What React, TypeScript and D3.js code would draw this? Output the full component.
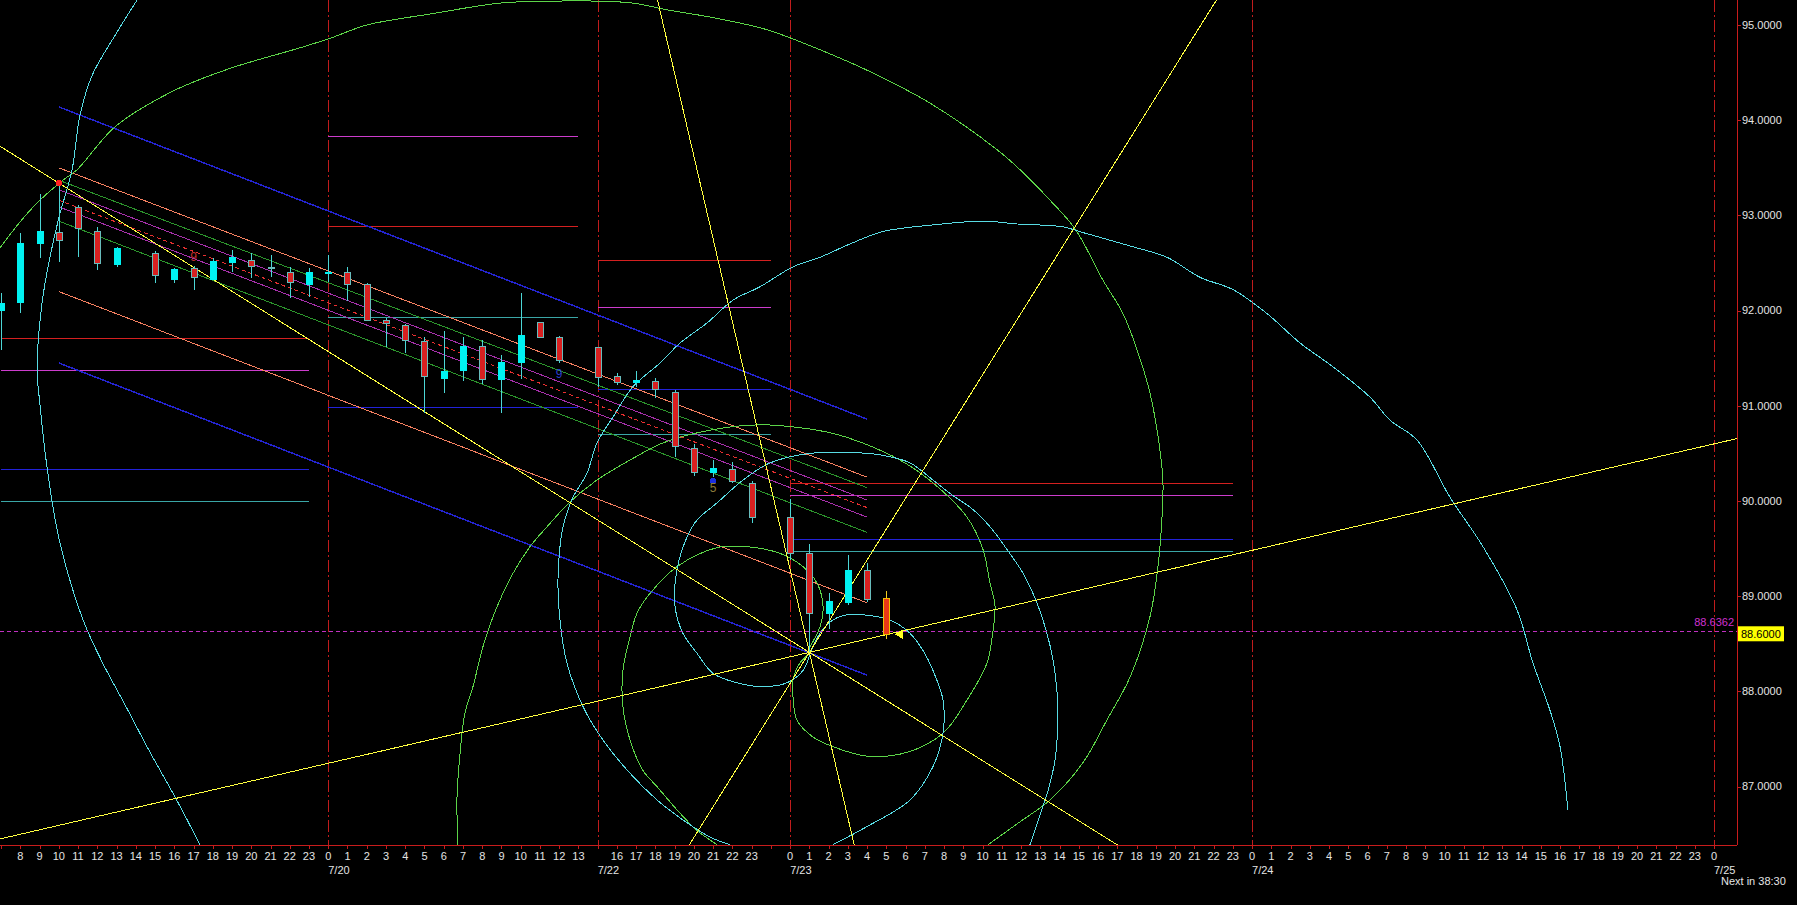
import React, { useEffect } from 'react';
import * as d3 from 'd3';

const W = 1797;
const H = 905;
const plotRight = 1737;
const plotBottom = 845;

// x axis: one slot per hour bar
const hourLabels = [
  '8', '9', '10', '11', '12', '13', '14', '15', '16', '17', '18', '19', '20', '21', '22', '23',
  '0', '1', '2', '3', '4', '5', '6', '7', '8', '9', '10', '11', '12', '13',
  '', '16', '17', '18', '19', '20', '21', '22', '23', '',
  '0', '1', '2', '3', '4', '5', '6', '7', '8', '9', '10', '11', '12', '13', '14', '15', '16', '17', '18', '19', '20', '21', '22', '23',
  '0', '1', '2', '3', '4', '5', '6', '7', '8', '9', '10', '11', '12', '13', '14', '15', '16', '17', '18', '19', '20', '21', '22', '23',
  '0',
];
const dateSlots = [16, 30, 40, 64, 88];
const dateLabels = ['7/20', '7/22', '7/23', '7/24', '7/25'];
const priceTicks = [87, 88, 89, 90, 91, 92, 93, 94, 95];

// candles
const candleSlot = [-1, 0, 1, 2, 3, 4, 5, 7, 8, 9, 10, 11, 12, 13, 14, 15, 16, 17, 18, 19, 20, 21, 22, 23, 24, 25, 26, 27, 28, 30, 31, 32, 33, 34, 35, 36, 37, 38, 40, 41, 42, 43, 44, 45];
const candleOpen = [92.00, 92.08, 92.70, 92.83, 93.09, 92.84, 92.48, 92.61, 92.33, 92.45, 92.33, 92.51, 92.53, 92.46, 92.41, 92.27, 92.40, 92.41, 92.28, 91.90, 91.85, 91.68, 91.29, 91.37, 91.63, 91.28, 91.45, 91.88, 91.72, 91.62, 91.31, 91.24, 91.26, 91.14, 90.56, 90.30, 90.34, 90.19, 89.83, 89.45, 88.82, 88.93, 89.27, 88.98];
const candleHigh = [92.19, 92.82, 93.22, 93.34, 93.11, 92.88, 92.67, 92.63, 92.45, 92.47, 92.55, 92.64, 92.60, 92.58, 92.46, 92.45, 92.58, 92.46, 92.29, 91.92, 91.86, 91.72, 91.79, 91.72, 91.69, 91.53, 92.18, 91.88, 91.73, 91.62, 91.34, 91.37, 91.29, 91.17, 90.60, 90.43, 90.41, 90.21, 90.02, 89.55, 89.03, 89.43, 89.35, 89.05];
const candleLow = [91.59, 91.97, 92.55, 92.51, 92.56, 92.43, 92.46, 92.29, 92.29, 92.22, 92.32, 92.41, 92.34, 92.35, 92.13, 92.14, 92.30, 92.10, 91.89, 91.62, 91.55, 90.92, 91.13, 91.26, 91.23, 90.92, 91.28, 91.72, 91.45, 91.20, 91.22, 91.20, 91.08, 90.46, 90.26, 90.25, 90.19, 89.77, 89.38, 88.41, 88.66, 88.91, 88.94, 88.55];
const candleClose = [92.08, 92.71, 92.84, 92.74, 92.86, 92.49, 92.66, 92.37, 92.44, 92.35, 92.52, 92.56, 92.46, 92.44, 92.29, 92.41, 92.41, 92.27, 91.90, 91.86, 91.69, 91.31, 91.37, 91.63, 91.28, 91.46, 91.74, 91.72, 91.48, 91.30, 91.25, 91.27, 91.17, 90.57, 90.30, 90.35, 90.20, 89.83, 89.45, 88.82, 88.95, 89.28, 88.97, 88.60];

// daily pivot-like level lines
const levelStart = [-1, 16, 30, 40];
const levelEnd = [15, 29, 39, 63];
const levelRed = [91.71, 92.89, 92.53, 90.19];
const levelMagenta = [91.38, 93.83, 92.04, 90.06];
const levelBlue = [90.34, 90.99, 91.18, 89.60];
const levelTeal = [90.00, 91.93, 90.70, 89.48];

// regression channel
const channelStart = 2;
const channelEnd = 44;
const channelFrom = [94.14, 93.50, 93.37, 93.27, 93.16, 93.09, 92.94, 92.20, 91.45];
const channelTo = [90.86, 90.25, 90.14, 90.01, 89.93, 89.83, 89.67, 88.93, 88.17];
const channelColor = ['#2424d0', '#f58060', '#2c962c', '#a830ac', '#e83030', '#a830ac', '#2c962c', '#f58060', '#2424d0'];

// fan lines through the low
const fanAnchor: [number, number] = [41, 88.41];
const fanPoints: [number, number][] = [[2, 93.34], [88, 90.60], [35, 93.62], [51, 91.65]];

// arcs, [slot, price]
const greenArcBig: [number, number][] = [
  [-1.05, 92.66], [-0.02, 92.93], [0.87, 93.13], [2.22, 93.37], [2.95, 93.48], [4.92, 93.93], [7.88, 94.30], [10.84, 94.54],
  [14.53, 94.76], [16.09, 94.86], [18.01, 95.00], [21.44, 95.12], [24.92, 95.23], [27.52, 95.25], [30.12, 95.25], [31.83, 95.23],
  [33.60, 95.16], [36.20, 95.07], [38.80, 94.95], [41.55, 94.74], [44.15, 94.51], [47.26, 94.18], [50.75, 93.69], [52.10, 93.45],
  [53.50, 93.16], [54.80, 92.86], [56.25, 92.32], [57.29, 91.97], [58.02, 91.59], [58.70, 91.13], [59.21, 90.54], [59.37, 90.19],
  [59.32, 89.83], [59.11, 89.31], [58.69, 88.78], [57.66, 88.15], [56.46, 87.70], [55.21, 87.25], [53.50, 86.86], [51.94, 86.63],
  [50.28, 86.39],
];
const greenArcMid: [number, number][] = [
  [41.03, 88.40], [40.51, 88.30], [40.15, 88.12], [40.15, 87.94], [40.35, 87.70], [41.19, 87.52], [42.22, 87.42], [43.99, 87.32],
  [46.07, 87.36], [47.94, 87.56], [49.19, 87.91], [50.23, 88.30], [50.54, 88.64], [50.64, 88.91], [50.38, 89.14], [50.02, 89.49],
  [49.19, 89.83], [47.42, 90.19], [45.71, 90.43], [43.63, 90.62], [42.22, 90.71], [40.51, 90.77], [38.43, 90.80], [35.99, 90.75],
  [33.39, 90.61], [31.68, 90.43], [29.96, 90.22], [28.56, 89.99], [27.37, 89.73], [26.48, 89.52], [25.60, 89.24], [24.77, 88.89],
  [24.04, 88.47], [23.52, 88.05], [23.10, 87.77], [22.85, 87.35], [22.69, 86.89], [22.74, 86.39],
];
const greenArcSmall: [number, number][] = [
  [41.03, 88.47], [41.55, 88.68], [41.71, 88.89], [41.39, 89.14], [40.67, 89.31], [39.47, 89.45], [37.76, 89.52], [36.20, 89.51],
  [34.12, 89.31], [32.72, 89.03], [32.04, 88.82], [31.68, 88.57], [31.31, 88.22], [31.31, 87.84], [31.68, 87.49], [32.35, 87.17],
  [33.08, 87.00], [34.28, 86.72], [35.16, 86.54], [36.20, 86.39],
];
const cyanArcLeft: [number, number][] = [
  [6.06, 95.26], [4.92, 94.89], [3.73, 94.47], [3.10, 94.05], [2.69, 93.48], [2.01, 92.98], [1.54, 92.56], [1.13, 92.08],
  [0.87, 91.38], [1.02, 91.02], [1.34, 90.43], [1.91, 89.70], [2.53, 89.20], [3.36, 88.70], [4.30, 88.29], [5.44, 87.86],
  [6.69, 87.38], [8.04, 86.89], [9.34, 86.39],
];
const cyanArcBig: [number, number][] = [
  [36.87, 86.39], [35.83, 86.47], [34.43, 86.65], [33.08, 86.86], [31.68, 87.14], [30.27, 87.49], [29.24, 87.84], [28.40, 88.30],
  [28.04, 88.75], [27.94, 89.20], [28.20, 89.73], [28.72, 90.04], [29.44, 90.29], [29.96, 90.61], [30.79, 90.88], [31.83, 91.20],
  [33.24, 91.45], [34.28, 91.66], [35.68, 91.87], [37.03, 92.11], [38.43, 92.25], [40.15, 92.46], [41.55, 92.56], [43.11, 92.70],
  [44.82, 92.83], [47.42, 92.90], [50.02, 92.94], [51.78, 92.91], [54.17, 92.88], [55.21, 92.82], [57.81, 92.67], [59.58, 92.56],
  [61.29, 92.35], [63.01, 92.22], [64.77, 91.97], [66.49, 91.66], [68.20, 91.41], [70.13, 91.09], [71.16, 90.85], [72.57, 90.64],
  [74.28, 90.04], [76.00, 89.52], [77.76, 88.86], [78.59, 88.30], [79.48, 87.80], [80.00, 87.42], [80.41, 86.75],
];
const cyanArcMid: [number, number][] = [
  [41.03, 88.40], [40.67, 88.22], [39.83, 88.09], [38.59, 88.05], [37.24, 88.09], [35.99, 88.19], [35.16, 88.40], [34.43, 88.61],
  [34.02, 88.89], [34.12, 89.28], [34.64, 89.62], [35.16, 89.80], [36.20, 89.98], [37.55, 90.22], [38.95, 90.40], [41.03, 90.50],
  [43.11, 90.51], [44.82, 90.48], [46.23, 90.40], [47.42, 90.22], [48.30, 90.08], [49.50, 89.91], [50.38, 89.73], [51.27, 89.49],
  [52.10, 89.24], [52.82, 88.93], [53.34, 88.61], [53.66, 88.33], [53.86, 88.01], [53.91, 87.70], [53.76, 87.28], [53.40, 86.96],
  [52.98, 86.70], [52.46, 86.39],
];
const cyanArcSmall: [number, number][] = [
  [41.03, 88.40], [41.55, 88.61], [42.22, 88.75], [43.11, 88.81], [43.99, 88.80], [45.19, 88.75], [46.23, 88.61], [46.90, 88.43],
  [47.42, 88.22], [47.94, 87.91], [47.94, 87.56], [47.42, 87.21], [46.23, 86.86], [43.99, 86.58], [42.22, 86.39],
];

// markers
const swingHigh: [number, number] = [2, 93.34];
const countSlots = [9, 28, 36];
const countPrices = [92.57, 91.34, 90.14];
const countTexts = ['9', '9', '5'];
const countColors = ['#c02c2c', '#2a3ed0', '#8c7c3c'];
const dotSlot = 36;
const dotPrice = 90.21;
const bidPrice = 88.6;
const markPrice = 88.6362;

const font = 'Liberation Sans, Arial, sans-serif';

export default function App() {
  useEffect(() => {
    document.body.style.margin = '0';
    document.body.style.background = '#000';
  }, []);

  const x = d3.scaleLinear().domain([-1, 88]).range([1.05, 1714]);
  const y = d3.scaleLinear().domain([86.3866, 95.2626]).range([plotBottom, 0]);

  const curve = d3
    .line<[number, number]>()
    .x((d) => x(d[0]))
    .y((d) => y(d[1]))
    .curve(d3.curveCatmullRom.alpha(0.5));

  const extend = (p: [number, number]) => {
    const m = (p[1] - fanAnchor[1]) / (p[0] - fanAnchor[0]);
    const s0 = -3;
    const s1 = 92;
    return {
      x1: x(s0),
      y1: y(fanAnchor[1] + m * (s0 - fanAnchor[0])),
      x2: x(s1),
      y2: y(fanAnchor[1] + m * (s1 - fanAnchor[0])),
    };
  };

  const px = (v: number) => Math.round(v) + 0.5;

  const levelSets = [
    { vals: levelRed, color: '#d42020' },
    { vals: levelMagenta, color: '#cc3ccc' },
    { vals: levelBlue, color: '#2222d8' },
    { vals: levelTeal, color: '#3aa6a6' },
  ];

  const slotsAll = d3.range(-1, 89);

  return (
    <svg width={W} height={H} style={{ position: 'absolute', left: 0, top: 0, background: '#000', display: 'block' }}>
      <defs>
        <clipPath id="plot">
          <rect x={0} y={0} width={plotRight} height={plotBottom} />
        </clipPath>
      </defs>
      <rect x={0} y={0} width={W} height={H} fill="#000" />

      <g clipPath="url(#plot)" shapeRendering="optimizeSpeed">
        {/* day separators */}
        {dateSlots.map((s) => (
          <line key={'d' + s} x1={px(x(s))} x2={px(x(s))} y1={0} y2={plotBottom} stroke="#c01c1c" strokeDasharray="12,3,2,3" />
        ))}

        {/* level lines */}
        {levelSets.map((set, k) =>
          set.vals.map((v, i) => (
            <line key={'l' + k + '-' + i} x1={x(levelStart[i])} x2={x(levelEnd[i])} y1={px(y(v))} y2={px(y(v))} stroke={set.color} />
          )),
        )}

        {/* channel */}
        {channelFrom.map((v, i) => (
          <line
            key={'c' + i}
            x1={x(channelStart)}
            y1={y(v)}
            x2={x(channelEnd)}
            y2={y(channelTo[i])}
            stroke={channelColor[i]}
            strokeWidth={i === 0 || i === 8 ? 1.5 : 1}
            strokeDasharray={i === 4 ? '4,3' : undefined}
          />
        ))}

        {/* arcs */}
        {[greenArcBig, greenArcMid, greenArcSmall].map((pts, i) => (
          <path key={'g' + i} d={curve(pts) ?? ''} fill="none" stroke="#5cd448" strokeWidth={1} />
        ))}
        {[cyanArcLeft, cyanArcBig, cyanArcMid, cyanArcSmall].map((pts, i) => (
          <path key={'cy' + i} d={curve(pts) ?? ''} fill="none" stroke="#58dce4" strokeWidth={1} />
        ))}

        {/* fan lines */}
        {fanPoints.map((p, i) => {
          const e = extend(p);
          return <line key={'f' + i} {...e} stroke="#ffff40" strokeWidth={1} />;
        })}

        {/* price line */}
        <line x1={0} x2={plotRight} y1={px(y(markPrice))} y2={px(y(markPrice))} stroke="#c030c0" strokeDasharray="4,3" />

        {/* candles */}
        {candleSlot.map((s, i) => {
          const o = candleOpen[i];
          const c = candleClose[i];
          const up = c >= o;
          const last = i === candleSlot.length - 1;
          const cx = px(x(s));
          const top = Math.round(y(Math.max(o, c))) + 0.5;
          const h = Math.max(1, Math.round(y(Math.min(o, c)) - top));
          const wick = last ? '#f0d020' : '#4cd6d6';
          return (
            <g key={'k' + i}>
              <line x1={cx} x2={cx} y1={y(candleHigh[i])} y2={y(candleLow[i])} stroke={wick} />
              <rect
                x={cx - 3}
                y={top}
                width={6}
                height={h}
                fill={up ? '#00f2f2' : last ? '#e83818' : '#d82020'}
                stroke={up ? '#00f2f2' : last ? '#f0c000' : '#68bcbc'}
                strokeWidth={1}
              />
            </g>
          );
        })}

        {/* markers */}
        <circle cx={x(swingHigh[0])} cy={y(swingHigh[1])} r={3.2} fill="#ff2020" />
        <circle cx={x(dotSlot)} cy={y(dotPrice)} r={3} fill="#1a2ee0" />
        <path d={`M${x(45.45)},${y(bidPrice)} l8,-5 l0,10 z`} fill="#ffff20" />
      </g>

      {countSlots.map((s, i) => (
        <text key={'t' + i} x={x(s)} y={y(countPrices[i])} dy="0.35em" textAnchor="middle" fontFamily={font} fontSize={12} fill={countColors[i]}>
          {countTexts[i]}
        </text>
      ))}

      {/* axes */}
      <g shapeRendering="crispEdges">
        <line x1={plotRight + 0.5} x2={plotRight + 0.5} y1={0} y2={plotBottom} stroke="#c81c1c" />
        <line x1={0} x2={plotRight} y1={plotBottom + 0.5} y2={plotBottom + 0.5} stroke="#c81c1c" />
        {slotsAll.map((s) => (
          <line key={'tk' + s} x1={px(x(s))} x2={px(x(s))} y1={plotBottom} y2={plotBottom + 4} stroke="#c81c1c" />
        ))}
        {priceTicks.map((p) => (
          <line key={'pt' + p} x1={plotRight} x2={plotRight + 4} y1={px(y(p))} y2={px(y(p))} stroke="#c81c1c" />
        ))}
      </g>
      {hourLabels.map((lab, i) =>
        lab ? (
          <text key={'h' + i} x={x(i)} y={860} textAnchor="middle" fontFamily={font} fontSize={11} fill="#e4e4e4">
            {lab}
          </text>
        ) : null,
      )}
      {dateSlots.map((s, i) => (
        <text key={'dl' + i} x={x(s)} y={874} fontFamily={font} fontSize={11} fill="#e4e4e4">
          {dateLabels[i]}
        </text>
      ))}
      <text x={1721} y={885} fontFamily={font} fontSize={11} fill="#e4e4e4">
        Next in 38:30
      </text>

      {priceTicks.map((p) => (
        <text key={'p' + p} x={plotRight + 5} y={y(p)} dy="0.35em" fontFamily={font} fontSize={11} fill="#e4e4e4">
          {p.toFixed(4)}
        </text>
      ))}

      <text x={plotRight - 3} y={y(markPrice) - 5} textAnchor="end" fontFamily={font} fontSize={11} fill="#d030d0">
        {markPrice.toFixed(4)}
      </text>
      <rect x={plotRight + 1} y={y(bidPrice) - 8} width={46} height={15} fill="#ffff00" />
      <text x={plotRight + 4} y={y(bidPrice)} dy="0.35em" fontFamily={font} fontSize={11} fill="#000">
        {bidPrice.toFixed(4)}
      </text>
    </svg>
  );
}
